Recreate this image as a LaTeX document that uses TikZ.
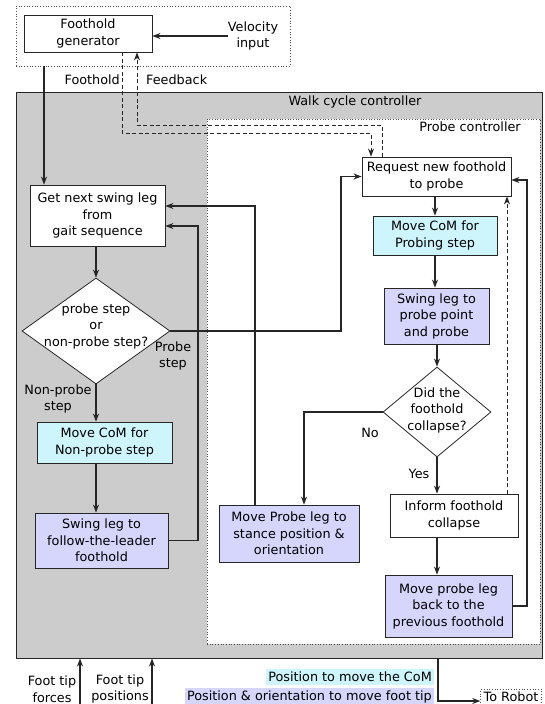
\documentclass[tikz,border=0pt]{standalone}
\usepackage{fontspec}
\setmainfont{DejaVu Sans}
\usepackage{tikz}
\usetikzlibrary{arrows.meta,shapes.geometric}
\usepackage{xcolor}
\definecolor{comcol}{RGB}{206,244,252}
\definecolor{tipcol}{RGB}{214,214,252}
\definecolor{walkcol}{RGB}{204,204,204}
\newcommand{\boxfont}{\fontsize{12.8}{16.5}\selectfont}
\tikzset{
  % flowchart step
  stepbox/.style={rectangle, draw=black!85, line width=0.8pt, fill=#1, align=center,
                  inner sep=2pt, font=\boxfont},
  stepbox/.default={white},
  % yes/no question
  decision/.style={diamond, draw=black!85, line width=0.8pt, fill=white, inner sep=0pt},
  % plain text
  txt/.style={align=center, inner sep=0pt, font=\boxfont},
  % container frames
  dotframe/.style={draw=black!70, dotted, line width=0.7pt},
  % connectors
  flow/.style={-{Stealth[length=8pt,width=6pt,inset=2.5pt]}, line width=1.2pt, draw=black!85},
  dashflow/.style={flow, line width=1pt, dash pattern=on 4pt off 2.5pt},
  % legend swatch
  swatch/.style={fill=#1, inner xsep=2pt, inner ysep=3pt, anchor=east, font=\boxfont},
}

\begin{document}
\begin{tikzpicture}[x=1pt, y=-1pt]
  \useasboundingbox (0,0) rectangle (544,704);
  % frames
  \node[dotframe, minimum width=274pt, minimum height=60pt] (plan) at (153,36) {};
  \node[draw=black!85, line width=1pt, fill=walkcol, minimum width=526pt, minimum height=566pt] (walk) at (279,375) {};
  \node[dotframe, fill=white, minimum width=333pt, minimum height=525pt] (probe) at (373.5,381.5) {};
  \node[txt] (walklbl) at (355,102) {Walk cycle controller};
  \node[txt] (probelbl) at (470,126.5) {Probe controller};

  % foothold planning
  \node[stepbox, minimum width=128pt, minimum height=37pt] (gen) at (88,33.5) {Foothold\\generator};
  \node[txt] (vel) at (253,36) {Velocity\\input};
  \node[txt, anchor=east] (fhlbl) at (120,80) {Foothold};
  \node[txt, anchor=west] (fblbl) at (146,80) {Feedback};

  % walk cycle
  \node[stepbox, minimum width=135pt, minimum height=61pt] (getleg) at (97.5,215.5) {Get next swing leg\\from\\gait sequence};
  \node[decision, minimum width=148pt, minimum height=106pt] (probeq) at (96,331) {};
  \node[txt] (probeqtxt) at (96,326) {probe step\\or\\non-probe step?};
  \node[stepbox=comcol, minimum width=135pt, minimum height=41pt] (comnon) at (104.5,442.5) {Move CoM for\\Non-probe step};
  \node[stepbox=tipcol, minimum width=133pt, minimum height=55pt] (swingftl) at (101.5,540.5) {Swing leg to\\follow-the-leader\\foothold};
  \node[txt] (probelbl2) at (173,356) {Probe\\step};
  \node[txt] (nonlbl) at (58,399) {Non-probe\\step};

  % probe controller
  \node[stepbox, minimum width=149pt, minimum height=39pt] (reqnew) at (436.5,176.5) {Request new foothold\\to probe};
  \node[stepbox=comcol, minimum width=124pt, minimum height=39pt] (comprobe) at (435,235.5) {Move CoM for\\Probing step};
  \node[stepbox=tipcol, minimum width=105pt, minimum height=56pt] (swingprobe) at (436.5,316) {Swing leg to\\probe point\\and probe};
  \node[decision, minimum width=108pt, minimum height=90pt] (collapse) at (437,412) {};
  \node[txt] (collapsetxt) at (437,410) {Did the\\foothold\\collapse?};
  \node[stepbox=tipcol, minimum width=140pt, minimum height=57pt] (moveprobe) at (289,533.5) {Move Probe leg to\\stance position \&\\orientation};
  \node[stepbox, minimum width=128pt, minimum height=43pt] (inform) at (454,515.5) {Inform foothold\\collapse};
  \node[stepbox=tipcol, minimum width=127pt, minimum height=62pt] (moveback) at (448.5,606) {Move probe leg\\back to the\\previous foothold};
  \node[txt] (nolbl) at (370,433) {No};
  \node[txt] (yeslbl) at (419,474) {Yes};

  % robot side
  \node[txt] (forcelbl) at (52,689) {Foot tip\\forces};
  \node[txt] (poslbl) at (120,689) {Foot tip\\positions};
  \node[swatch=comcol] (comkey) at (434,677) {Position to move the CoM};
  \node[swatch=tipcol] (tipkey) at (434,697) {Position \& orientation to move foot tip};
  \node[dotframe, font=\boxfont, inner xsep=3pt, inner ysep=2.5pt, anchor=north] (torobot) at (511,689) {To Robot};

  % bend points
  \coordinate (fhx) at (44,0);
  \coordinate (fhbend) at (122,133);
  \coordinate (fhdrop) at (371,133);
  \coordinate (fbbend) at (137,125);
  \coordinate (fbrise) at (382,125);
  \coordinate (pbx) at (341,0);
  \coordinate (ftlup) at (198,226);
  \coordinate (stup) at (255,206);
  \coordinate (nox) at (304,0);
  \coordinate (colx) at (507,0);
  \coordinate (backup) at (527,180);
  \coordinate (ftf) at (80,704);
  \coordinate (ftp) at (152,704);
  \coordinate (outx) at (438,701);

  % connectors
  \draw[flow] (vel.west) -- (vel.west -| gen.east);
  \draw[flow] (plan.south -| fhx) -- (getleg.north -| fhx);
  \draw[dashflow] (gen.south -| fhbend) -- (fhbend) -- (fhdrop) -- (reqnew.north -| fhdrop);
  \draw[dashflow] (reqnew.north -| fbrise) -- (fbrise) -- (fbbend) -- (gen.south -| fbbend);
  \draw[flow] (getleg.south -| probeq) -- (probeq.north);
  \draw[flow] (probeq.east) -| (reqnew.west -| pbx) -- (reqnew.west);
  \draw[flow] (probeq.south) -- (probeq.south |- comnon.north);
  \draw[flow] (comnon.south -| probeq) -- (swingftl.north -| probeq);
  \draw[flow] (swingftl.east) -| (ftlup) -- (ftlup -| getleg.east);
  \draw[flow] (moveprobe.north -| stup) -- (stup) -- (stup -| getleg.east);
  \draw[flow] (reqnew.south -| comprobe) -- (comprobe.north);
  \draw[flow] (comprobe.south) -- (comprobe.south |- swingprobe.north);
  \draw[flow] (swingprobe.south -| collapse) -- (collapse.north);
  \draw[flow] (collapse.west) -| (moveprobe.north -| nox);
  \draw[flow] (collapse.south) -- (inform.north -| collapse);
  \draw[flow] (inform.south -| collapse) -- (moveback.north -| collapse);
  \draw[dashflow] (inform.north -| colx) -- (reqnew.south -| colx);
  \draw[flow] (moveback.east) -| (backup) -- (backup -| reqnew.east);
  \draw[flow] (ftf) -- (walk.south -| ftf);
  \draw[flow] (ftp) -- (walk.south -| ftp);
  \draw[flow] (walk.south -| outx) -- (outx) -- (outx -| torobot.west);
\end{tikzpicture}
\end{document}
